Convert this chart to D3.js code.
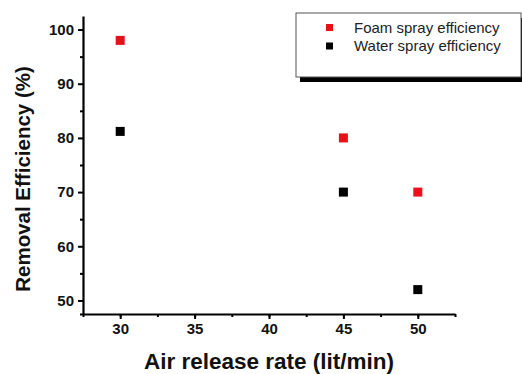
<!DOCTYPE html>
<html>
<head>
<meta charset="utf-8">
<script src="https://cdn.jsdelivr.net/npm/d3@7"></script>
<style>
  body { margin: 0; background: #fff; }
  text { font-family: "Liberation Sans", Arial, sans-serif; }
</style>
</head>
<body>
<div id="my_dataviz"></div>
<script>
// data
var rates = [30, 45, 50];
var foam = [98, 80, 70];
var water = [81.2, 70, 52];
var seriesNames = ["Foam spray efficiency", "Water spray efficiency"];
var seriesColors = ["#e8101a", "#000000"];
var xTicks = [30, 35, 40, 45, 50];
var yTicks = [50, 60, 70, 80, 90, 100];

var margin = {top: 16, right: 67, bottom: 60, left: 83},
    width = 522 - margin.left - margin.right,
    height = 374 - margin.top - margin.bottom;

var svg = d3.select("#my_dataviz")
  .append("svg")
  .attr("width", 522)
  .attr("height", 374)
  .append("g")
  .attr("transform", "translate(" + margin.left + "," + margin.top + ")");

var x = d3.scaleLinear().domain([27.5, 52.5]).range([0, width]);
var y = d3.scaleLinear().domain([47.5, 102.5]).range([height, 0]);

// minor ticks
svg.append("g")
  .attr("transform", "translate(0," + height + ")")
  .call(d3.axisBottom(x).tickValues(d3.range(27.5, 52.6, 2.5)).tickSize(3).tickFormat(""))
  .call(function(g) { g.select(".domain").remove(); g.selectAll("line").attr("stroke-width", 2); });
svg.append("g")
  .call(d3.axisLeft(y).tickValues(d3.range(55, 101, 10).concat([47.5])).tickSize(3).tickFormat(""))
  .call(function(g) { g.select(".domain").remove(); g.selectAll("line").attr("stroke-width", 2); });

// X axis
var xAxis = svg.append("g")
  .attr("transform", "translate(0," + height + ")")
  .call(d3.axisBottom(x).tickValues(xTicks).tickSize(5).tickSizeOuter(0).tickPadding(4));
// Y axis
var yAxis = svg.append("g")
  .call(d3.axisLeft(y).tickValues(yTicks).tickSize(5).tickSizeOuter(0).tickPadding(4));

[xAxis, yAxis].forEach(function(a) {
  a.select(".domain").attr("stroke-width", 2.2);
  a.selectAll(".tick line").attr("stroke-width", 2);
  a.selectAll("text")
    .style("font-family", "Liberation Sans, Arial, sans-serif")
    .style("font-size", "15px")
    .style("font-weight", "bold")
    .attr("fill", "#111");
});

// axis titles
svg.append("text")
  .attr("x", (140 + 398) / 2 - margin.left)
  .attr("y", 369 - margin.top)
  .attr("text-anchor", "middle")
  .style("font-size", "22.5px")
  .style("font-weight", "bold")
  .attr("fill", "#111")
  .text("Air release rate (lit/min)");

svg.append("text")
  .attr("transform", "rotate(-90)")
  .attr("x", 0 - 163)
  .attr("y", 0 - margin.left + 30)
  .attr("text-anchor", "middle")
  .style("font-size", "20.5px")
  .style("font-weight", "bold")
  .attr("fill", "#111")
  .text("Removal Efficiency (%)");

// points
var sz = 9;
[foam, water].forEach(function(vals, i) {
  svg.selectAll(".pt" + i)
    .data(vals)
    .enter()
    .append("rect")
    .attr("class", "pt" + i)
    .attr("x", function(d, j) { return x(rates[j]) - sz / 2; })
    .attr("y", function(d) { return y(d) - sz / 2; })
    .attr("width", sz)
    .attr("height", sz)
    .attr("fill", seriesColors[i]);
});

// legend
var lg = d3.select("svg").append("g").attr("transform", "translate(296,13)");
lg.append("rect").attr("x", 4).attr("y", 5).attr("width", 230).attr("height", 64).attr("fill", "#000");
lg.append("rect").attr("x", 0).attr("y", 0).attr("width", 225).attr("height", 64)
  .attr("fill", "#fff").attr("stroke", "#555").attr("stroke-width", 1);
seriesNames.forEach(function(name, i) {
  lg.append("rect").attr("x", 30).attr("y", 11 + i * 18.5).attr("width", 7).attr("height", 7)
    .attr("fill", seriesColors[i]);
  lg.append("text").attr("x", 58).attr("y", 20 + i * 18)
    .style("font-size", "15px").attr("fill", "#222").text(name);
});
</script>
</body>
</html>
